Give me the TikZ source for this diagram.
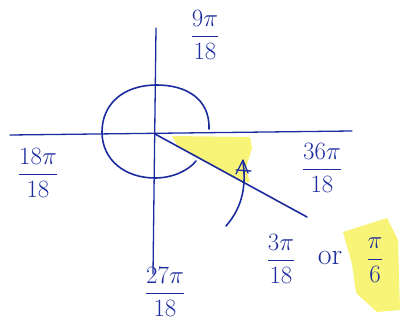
\documentclass[tikz,border=0pt]{standalone}
\usetikzlibrary{arrows.meta}
\definecolor{ink}{RGB}{28,44,158}
\definecolor{hl}{RGB}{246,242,96}
\newcommand{\hfr}[2]{$\displaystyle\frac{#1}{#2}$}
\begin{document}
\begin{tikzpicture}[x=1pt,y=-1pt,
  inkline/.style={draw=ink,line width=1.6pt,line cap=round,line join=round},
  lbl/.style={text=ink,font=\fontsize{27}{30}\selectfont,inner sep=0pt},
  hilite/.style={fill=hl,draw=none,opacity=0.85}]
\useasboundingbox (0,0) rectangle (403,323);
\clip (0,0) rectangle (403,323);
% highlights
\fill[hilite] (172,136) -- (250,137) -- (252,148) -- (246,168) -- (250,182) -- (243,183) -- (178,147) -- cycle;
\fill[hilite] (343,232) -- (387,218) -- (398,240) -- (400,310) -- (377,312) -- (356,293) -- (352,264) -- cycle;
% axes
\coordinate (O) at (155,134);
\coordinate (xl) at (10,135);
\coordinate (xr) at (352,131);
\coordinate (yt) at (156,28);
\coordinate (yb) at (153,274);
\coordinate (ray) at (307,217);
\draw[inkline,line width=1.3pt] (xl) -- (xr);
\draw[inkline,line width=1.3pt] (yt) -- (yb);
\draw[inkline] (O) -- (ray);
% spiral
\draw[inkline] (209,129) .. controls (210,98) and (185,85) .. (157,85)
  .. controls (122,85) and (102,105) .. (102,132)
  .. controls (102,160) and (125,178) .. (155,178)
  .. controls (172,178) and (188,171) .. (196,161);
% angle arc with arrow
\draw[inkline] (226,226) .. controls (240,210) and (247,190) .. (243,162);
\draw[inkline,line width=1.3pt] (236,174) -- (243,160) -- (248,173);
\draw[inkline,line width=1.3pt] (236,170) -- (251,171);
% labels
\node[lbl] (l9) at (205,35) {\hfr{9\pi}{18}};
\node[lbl] (l18) at (38,173) {\hfr{18\pi}{18}};
\node[lbl] (l36) at (322,168) {\hfr{36\pi}{18}};
\node[lbl] (l27) at (165,292) {\hfr{27\pi}{18}};
\node[lbl] (l3) at (281,259) {\hfr{3\pi}{18}};
\node[lbl,font=\fontsize{30}{32}\selectfont] (lor) at (330,258) {or};
\node[lbl] (l6) at (375,260) {\hfr{\pi}{6}};
\end{tikzpicture}
\end{document}
